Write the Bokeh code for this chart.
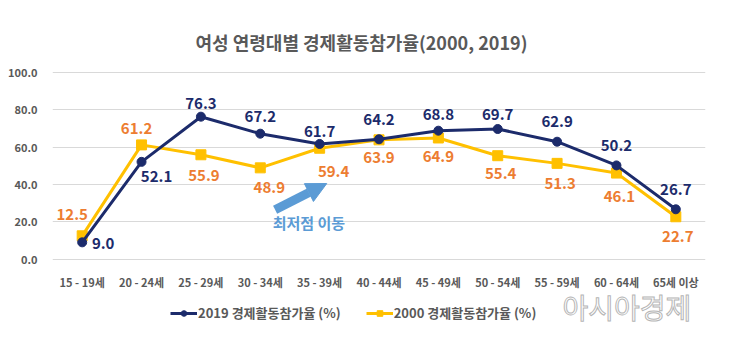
from bokeh.plotting import figure
from bokeh.models import (ColumnDataSource, FactorRange, Range1d, Legend, LegendItem,
                          Arrow, NormalHead, Label, PrintfTickFormatter, FixedTicker)
from bokeh.core.properties import value
from bokeh.embed import file_html
from bokeh.resources import INLINE

FONT = "Noto Sans CJK KR"

title = "여성 연령대별 경제활동참가율(2000, 2019)"
ages = ["15 - 19세", "20 - 24세", "25 - 29세", "30 - 34세", "35 - 39세", "40 - 44세",
        "45 - 49세", "50 - 54세", "55 - 59세", "60 - 64세", "65세 이상"]
rate_2019 = [9.0, 52.1, 76.3, 67.2, 61.7, 64.2, 68.8, 69.7, 62.9, 50.2, 26.7]
rate_2000 = [12.5, 61.2, 55.9, 48.9, 59.4, 63.9, 64.9, 55.4, 51.3, 46.1, 22.7]
name_2019 = "2019 경제활동참가율 (%)"
name_2000 = "2000 경제활동참가율 (%)"
y_ticks = [0, 20, 40, 60, 80, 100]
note = "최저점 이동"
watermark = "아시아경제"

# label placement (screen px offsets, styling only)
off_2019 = [(21, 1), (15, 15), (0, -13), (0, -17), (0, -12), (0, -20),
            (0, -16), (0, -15), (0, -20), (0, -20), (0, -20)]
off_2000 = [(-10, -21), (-5, -16), (3, 21), (9, 20), (14, 23), (0, 18),
            (0, 19), (3, 18), (3, 20), (3, 23), (2, 20)]

NAVY = "#1c2b6b"
YELLOW = "#ffc000"
ORANGE = "#ed7d31"
GRAY = "#595959"
BLUE = "#5b9bd5"

# frame runs from y=71 to the bottom; value 0 sits at pixel 258
p = figure(width=739, height=339, x_range=FactorRange(*ages, range_padding=0),
           y_range=Range1d(-35.0, 100.5), output_backend="svg", toolbar_location=None,
           min_border_left=52, min_border_right=34, min_border_top=71, min_border_bottom=15)
p.outline_line_color = None
p.background_fill_color = "white"

p.title.text = title
p.title.align = "left"
p.title.offset = 143
p.title.text_font = FONT
p.title.text_font_size = "18px"
p.title.text_font_style = "bold"
p.title.text_color = GRAY
p.title.standoff = 33

p.xgrid.grid_line_color = None
p.ygrid.grid_line_color = "#d9d9d9"
p.ygrid.grid_line_width = 1
p.yaxis.ticker = FixedTicker(ticks=y_ticks)
p.yaxis.formatter = PrintfTickFormatter(format="%.1f")
for ax in (p.xaxis, p.yaxis):
    ax.axis_line_color = None
    ax.major_tick_line_color = None
    ax.minor_tick_line_color = None
    ax.major_label_text_font = FONT
    ax.major_label_text_font_size = "11px"
    ax.major_label_text_font_style = "bold"
    ax.major_label_text_color = GRAY
p.yaxis.major_label_standoff = 9
p.xaxis.fixed_location = -5
p.xaxis.major_label_standoff = 0

src = ColumnDataSource(dict(
    age=ages, r19=rate_2019, r00=rate_2000,
    t19=[f"{v:.1f}" for v in rate_2019], t00=[f"{v:.1f}" for v in rate_2000],
    dx19=[o[0] for o in off_2019], dy19=[o[1] for o in off_2019],
    dx00=[o[0] for o in off_2000], dy00=[o[1] for o in off_2000],
))

l00 = p.line("age", "r00", source=src, line_color=YELLOW, line_width=3)
s00 = p.scatter("age", "r00", source=src, marker="square", size=10,
                fill_color=YELLOW, line_color=YELLOW)
l19 = p.line("age", "r19", source=src, line_color=NAVY, line_width=3)
s19 = p.scatter("age", "r19", source=src, marker="circle", size=9,
                fill_color=NAVY, line_color=NAVY)

p.text("age", "r19", text="t19", source=src, x_offset="dx19", y_offset="dy19",
       text_align="center", text_baseline="middle", text_font=value(FONT),
       text_font_size="15px", text_font_style="bold", text_color=NAVY)
p.text("age", "r00", text="t00", source=src, x_offset="dx00", y_offset="dy00",
       text_align="center", text_baseline="middle", text_font=value(FONT),
       text_font_size="15px", text_font_style="bold", text_color=ORANGE)

# annotation arrow
p.add_layout(Arrow(x_start=3.75, y_start=26.5, x_end=4.62, y_end=40.5,
                   line_color=BLUE, line_width=9,
                   end=NormalHead(size=20, fill_color=BLUE, line_color=BLUE)))
p.add_layout(Label(x=4.32, y=19.5, text=note, text_align="center", text_baseline="middle",
                   text_font=FONT, text_font_size="15px", text_font_style="bold",
                   text_color=BLUE))

legend = Legend(items=[LegendItem(label=name_2019, renderers=[l19, s19]),
                       LegendItem(label=name_2000, renderers=[l00, s00])],
                orientation="horizontal", location=(118, 2),
                label_text_font=FONT, label_text_font_size="13px",
                label_text_font_style="bold",
                label_text_color=GRAY, glyph_width=27, glyph_height=14,
                label_height=14, label_standoff=1,
                spacing=25, padding=0, margin=0, background_fill_alpha=0,
                border_line_color=None)
p.add_layout(legend, "center")

p.add_layout(Label(x=8.59, y=-25.4, text=watermark,
                   text_align="left", text_baseline="middle",
                   text_font=FONT, text_font_size="28px", text_font_style="normal",
                   text_color="white", text_outline_color="#b5b5b5"))

open("out.html", "w").write(file_html(p, INLINE))
